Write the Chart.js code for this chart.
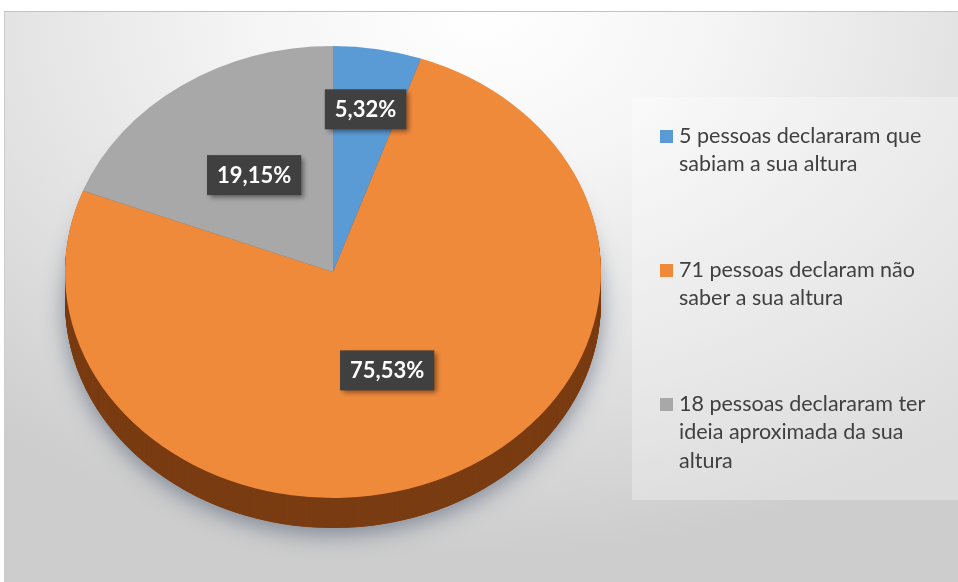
<!DOCTYPE html>
<html>
<head>
<meta charset="utf-8">
<script src="https://cdn.jsdelivr.net/npm/chart.js@4.4.0/dist/chart.umd.min.js"></script>
<style>
  html, body { margin: 0; padding: 0; background: #fff; }
  #wrap { position: relative; width: 958px; height: 582px; overflow: hidden; }
  #fundo {
    position: absolute; left: 4px; top: 11px; right: 0; bottom: 0;
    border-top: 1px solid #c2c2c2; border-left: 1px solid #cdcdcd;
    background: radial-gradient(ellipse 80% 95% at 50% 0%, #ffffff 0%, #f5f5f5 30%, #dedede 72%, #cdcdcd 100%);
  }
  #grafico { position: absolute; left: 0; top: 0; }
</style>
</head>
<body>
<div id="wrap">
  <div id="fundo"></div>
  <canvas id="grafico" width="958" height="582"></canvas>
</div>
<script>
const categorias = [
  ['5 pessoas declararam que', 'sabiam a sua altura'],
  ['71 pessoas declaram não', 'saber a sua altura'],
  ['18 pessoas declararam ter', 'ideia aproximada da sua', 'altura']
];
const pessoas = [5, 71, 18];
const cores = ['#5B9BD5', '#F08A3B', '#A8A8A8'];
const coresLado = ['#2f5e8a', '#7a3c12', '#5f5f5f'];

const ACHATAR = 226 / 268;   // vertical squash of the pie
const ESPESSURA = 30;        // depth of the 3D side, px
const RAIO_ROTULO = [0.73, 0.48, 0.52];

function percent(v) {
  const total = pessoas.reduce((a, b) => a + b, 0);
  return (v / total * 100).toFixed(2).replace('.', ',') + '%';
}

function fatiaPath(ctx, arc) {
  ctx.beginPath();
  ctx.moveTo(arc.x, arc.y);
  ctx.arc(arc.x, arc.y, arc.outerRadius, arc.startAngle, arc.endAngle);
  ctx.closePath();
}

const pizza3d = {
  id: 'pizza3d',
  beforeDatasetsDraw(chart) {
    const ctx = chart.ctx;
    const arcs = chart.getDatasetMeta(0).data;
    const cx = arcs[0].x, cy = arcs[0].y;

    // soft shadow under the pie
    ctx.save();
    ctx.shadowColor = 'rgba(60,75,100,0.55)';
    ctx.shadowBlur = 22;
    ctx.shadowOffsetY = 6;
    ctx.translate(cx, cy + ESPESSURA);
    ctx.scale(1, ACHATAR);
    ctx.beginPath();
    ctx.arc(0, 0, arcs[0].outerRadius, 0, Math.PI * 2);
    ctx.fillStyle = coresLado[1];
    ctx.fill();
    ctx.restore();

    // side walls
    for (let d = ESPESSURA; d > 0; d--) {
      ctx.save();
      ctx.translate(cx, cy + d);
      ctx.scale(1, ACHATAR);
      ctx.translate(-cx, -cy);
      arcs.forEach((arc, i) => {
        fatiaPath(ctx, arc);
        ctx.fillStyle = coresLado[i];
        ctx.fill();
      });
      ctx.restore();
    }

    // top face drawn squashed
    ctx.save();
    ctx.translate(cx, cy);
    ctx.scale(1, ACHATAR);
    ctx.translate(-cx, -cy);
  },
  afterDatasetsDraw(chart) {
    chart.ctx.restore();
  },
  afterDraw(chart) {
    const ctx = chart.ctx;
    const arcs = chart.getDatasetMeta(0).data;

    // value labels
    ctx.save();
    ctx.font = 'bold 22px Lato';
    ctx.textAlign = 'center';
    ctx.textBaseline = 'middle';
    arcs.forEach((arc, i) => {
      const meio = (arc.startAngle + arc.endAngle) / 2;
      const r = arc.outerRadius * RAIO_ROTULO[i];
      const x = arc.x + Math.cos(meio) * r;
      const y = arc.y + Math.sin(meio) * r * ACHATAR;
      const txt = percent(pessoas[i]);
      const w = ctx.measureText(txt).width + 20;
      const h = 40;
      ctx.save();
      ctx.shadowColor = 'rgba(0,0,0,0.45)';
      ctx.shadowBlur = 5;
      ctx.shadowOffsetX = 3;
      ctx.shadowOffsetY = 3;
      ctx.fillStyle = '#404040';
      ctx.fillRect(x - w / 2, y - h / 2, w, h);
      ctx.restore();
      ctx.fillStyle = '#ffffff';
      ctx.fillText(txt, x, y + 1);
    });
    ctx.restore();

    // legend panel
    ctx.save();
    ctx.fillStyle = 'rgba(255,255,255,0.3)';
    ctx.fillRect(632, 97, 326, 403);
    ctx.font = '21.5px Lato';
    ctx.textBaseline = 'middle';
    const topos = [136, 270, 404];
    categorias.forEach((linhas, i) => {
      ctx.fillStyle = cores[i];
      ctx.fillRect(660, topos[i] - 6, 13, 13);
      ctx.fillStyle = '#404040';
      linhas.forEach((l, j) => ctx.fillText(l, 679, topos[i] + j * 28.5));
    });
    ctx.restore();
  }
};

new Chart(document.getElementById('grafico'), {
  type: 'pie',
  data: {
    labels: categorias,
    datasets: [{
      data: pessoas,
      backgroundColor: cores,
      borderWidth: 0,
      clip: false
    }]
  },
  options: {
    responsive: false,
    animation: false,
    layout: { padding: { left: 65, right: 357, top: 4, bottom: 42 } },
    plugins: {
      legend: { display: false },
      tooltip: { enabled: false }
    }
  },
  plugins: [pizza3d]
});
</script>
</body>
</html>
